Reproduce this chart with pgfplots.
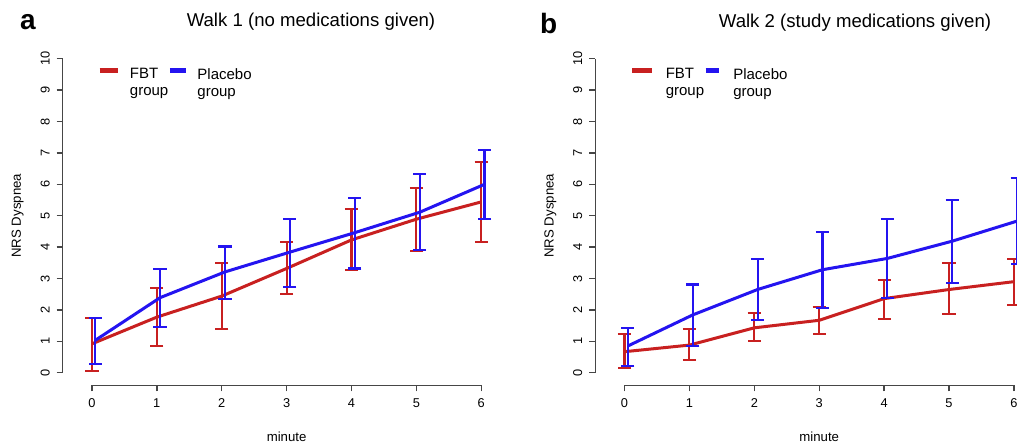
\documentclass[border=0pt]{standalone}
\usepackage{pgfplots}
\pgfplotsset{compat=1.18}
\usepackage{pgfplotstable}
\usepackage{fontspec}
\setmainfont{Liberation Sans}

\definecolor{rred}{RGB}{200,32,32}
\definecolor{rblue}{RGB}{36,20,240}
\definecolor{axgray}{RGB}{70,70,70}

% walk 1: x, mean, upper, lower (blue nudged right as in the original)
\pgfplotstableread{
x y hi lo
0 0.92 1.73 0.05
1 1.77 2.71 0.85
2 2.44 3.50 1.38
3 3.32 4.16 2.52
4 4.23 5.20 3.26
5 4.89 5.89 3.88
6 5.44 6.72 4.16
}\aFBT
\pgfplotstableread{
x y hi lo
0.05 1.03 1.73 0.27
1.05 2.39 3.31 1.45
2.05 3.21 4.02 2.36
3.05 3.84 4.91 2.74
4.05 4.46 5.57 3.32
5.05 5.11 6.32 3.90
6.05 6.00 7.09 4.89
}\aPla
% walk 2
\pgfplotstableread{
x y hi lo
0 0.67 1.22 0.16
1 0.88 1.38 0.41
2 1.43 1.90 1.01
3 1.67 2.10 1.24
4 2.36 2.94 1.72
5 2.65 3.49 1.86
6 2.90 3.61 2.17
}\bFBT
\pgfplotstableread{
x y hi lo
0.05 0.85 1.42 0.22
1.05 1.84 2.81 0.84
2.05 2.65 3.61 1.67
3.05 3.28 4.48 2.07
4.05 3.64 4.89 2.39
5.05 4.19 5.50 2.86
6.05 4.83 6.19 3.47
}\bPla

\tikzset{legtxt/.style={anchor=north west, align=left, font=\fontsize{7.5}{8.4}\selectfont, inner sep=0pt}}

\pgfplotsset{
  rpanel/.style={
    x=32.45pt, y=15.7pt,
    xmin=-0.45, xmax=6.45, ymin=-0.4, ymax=10.4,
    anchor=south west, clip=false,
    axis x line*=bottom, axis y line*=left,
    axis line style={draw=none},
    xtick={0,...,6}, ytick={0,...,10},
    tick align=outside, major tick length=3pt,
    tick style={axgray, line width=0.7pt},
    ticklabel style={font=\fontsize{6.4}{7}\selectfont, text=black},
    /pgf/number format/assume math mode=true,
    yticklabel style={rotate=90, anchor=south},
    xlabel={minute}, ylabel={NRS Dyspnea},
    label style={font=\fontsize{6.6}{8}\selectfont},
    xlabel style={at={(axis cs:3,-0.4)}, anchor=north, yshift=-20pt},
    ylabel style={at={(axis cs:-0.45,5)}, anchor=south, rotate=0, yshift=16pt},
  },
  grp/.style={line width=1.5pt, color=#1, no markers,
    error bars/.cd, y dir=both, y explicit,
    error bar style={line width=1.05pt, color=#1},
    error mark options={rotate=90, mark size=3.3pt, line width=1.05pt, color=#1}},
}

\begin{document}
\begin{tikzpicture}
\useasboundingbox (0pt,0pt) rectangle (508.5pt,221pt);

\node[font=\bfseries\fontsize{14}{16}\selectfont, anchor=base west] at (6.5pt,206pt) {a};
\node[font=\fontsize{9.3}{11}\selectfont] at (155.5pt,210pt) {Walk 1 (no medications given)};
\node[font=\bfseries\fontsize{14}{16}\selectfont, anchor=base west] at (266.5pt,204pt) {b};
\node[font=\fontsize{9.3}{11}\selectfont] at (427.5pt,209.5pt) {Walk 2 (study medications given)};

\begin{axis}[rpanel, at={(31.35pt,28.35pt)}]
  \draw[axgray, line width=0.7pt] (axis cs:0,-0.4) -- (axis cs:6,-0.4);
  \draw[axgray, line width=0.7pt] (axis cs:-0.45,0) -- (axis cs:-0.45,10);
  \addplot[grp=rred] table[x=x, y=y, y error plus expr=\thisrow{hi}-\thisrow{y}, y error minus expr=\thisrow{y}-\thisrow{lo}] {\aFBT};
  \addplot[grp=rblue] table[x=x, y=y, y error plus expr=\thisrow{hi}-\thisrow{y}, y error minus expr=\thisrow{y}-\thisrow{lo}] {\aPla};
  \draw[rred, line width=2.5pt] (axis cs:0.12,9.62) -- (axis cs:0.4,9.62);
  \node[legtxt] at (axis cs:0.58,9.7) {FBT\\group};
  \draw[rblue, line width=2.5pt] (axis cs:1.2,9.62) -- (axis cs:1.45,9.62);
  \node[legtxt] at (axis cs:1.62,9.7) {Placebo\\group};
\end{axis}

\begin{axis}[rpanel, at={(297.65pt,28.35pt)}]
  \draw[axgray, line width=0.7pt] (axis cs:0,-0.4) -- (axis cs:6,-0.4);
  \draw[axgray, line width=0.7pt] (axis cs:-0.45,0) -- (axis cs:-0.45,10);
  \addplot[grp=rred] table[x=x, y=y, y error plus expr=\thisrow{hi}-\thisrow{y}, y error minus expr=\thisrow{y}-\thisrow{lo}] {\bFBT};
  \addplot[grp=rblue] table[x=x, y=y, y error plus expr=\thisrow{hi}-\thisrow{y}, y error minus expr=\thisrow{y}-\thisrow{lo}] {\bPla};
  \draw[rred, line width=2.5pt] (axis cs:0.12,9.62) -- (axis cs:0.42,9.62);
  \node[legtxt] at (axis cs:0.63,9.7) {FBT\\group};
  \draw[rblue, line width=2.5pt] (axis cs:1.25,9.62) -- (axis cs:1.45,9.62);
  \node[legtxt] at (axis cs:1.67,9.7) {Placebo\\group};
\end{axis}
\end{tikzpicture}
\end{document}
